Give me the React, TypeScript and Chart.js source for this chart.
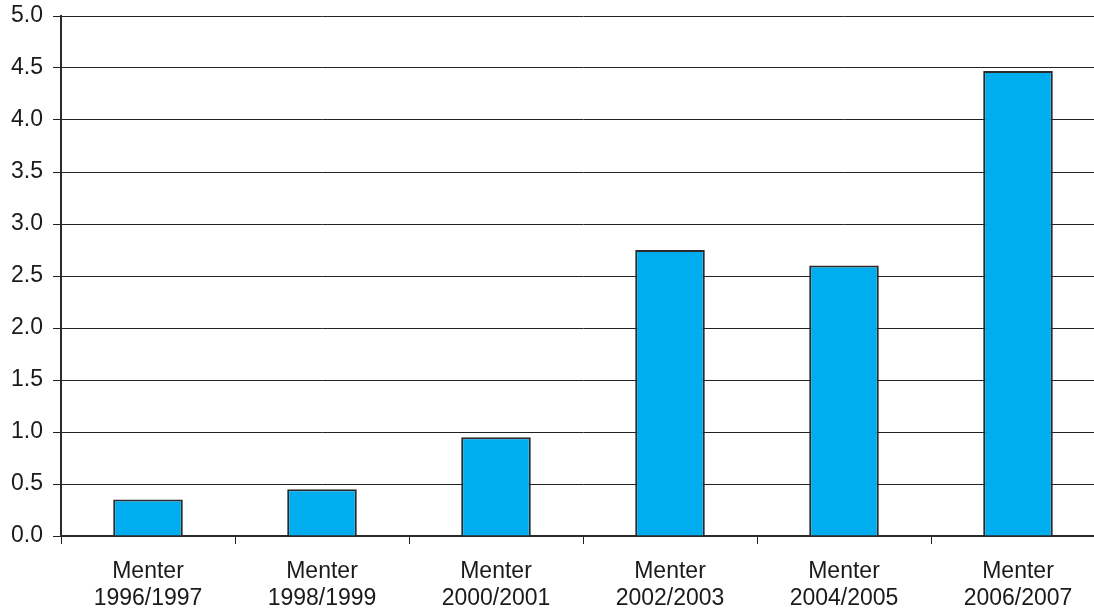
import React, { useEffect, useRef } from "react";
import { Chart, registerables } from "chart.js";

Chart.register(...registerables);

const categories: string[][] = [
  ["Menter", "1996/1997"],
  ["Menter", "1998/1999"],
  ["Menter", "2000/2001"],
  ["Menter", "2002/2003"],
  ["Menter", "2004/2005"],
  ["Menter", "2006/2007"],
];
const values: number[] = [0.35, 0.45, 0.95, 2.75, 2.6, 4.47];
const yMin = 0;
const yMax = 5;
const yStep = 0.5;

export default function App() {
  const ref = useRef<HTMLCanvasElement | null>(null);

  useEffect(() => {
    if (!ref.current) return;
    const family = "'Liberation Sans', Arial, Helvetica, sans-serif";
    const xFont = { family, size: 23, lineHeight: 1.17 };
    const yFont = { family, size: 23, lineHeight: 0.5 };
    const chart = new Chart(ref.current, {
      type: "bar",
      data: {
        labels: categories,
        datasets: [
          {
            data: values,
            backgroundColor: "#00AEEF",
            borderColor: "#2b2b2b",
            borderWidth: 2,
            barPercentage: 0.4,
            categoryPercentage: 1,
          },
        ],
      },
      options: {
        responsive: false,
        animation: false,
        devicePixelRatio: 1,
        layout: { padding: { top: 16, left: 0, right: 0, bottom: 0 } },
        plugins: { legend: { display: false }, tooltip: { enabled: false } },
        scales: {
          x: {
            grid: {
              offset: true,
              drawOnChartArea: false,
              drawTicks: true,
              tickLength: 8,
              color: "#222",
              lineWidth: 1,
            },
            border: { display: true, color: "#2b2b2b", width: 2 },
            ticks: { color: "#1a1a1a", font: xFont, padding: 14, maxRotation: 0, autoSkip: false },
            afterFit: (s: any) => {
              s.height = 73;
            },
          },
          y: {
            min: yMin,
            max: yMax,
            grid: { color: "#222", lineWidth: 1, tickLength: 8, drawTicks: true },
            border: { display: true, color: "#2b2b2b", width: 2 },
            ticks: {
              stepSize: yStep,
              color: "#1a1a1a",
              font: yFont,
              padding: 10,
              callback: (v: any) => Number(v).toFixed(1),
            },
            afterFit: (s: any) => {
              s.width = 61;
            },
          },
        },
      },
    });
    return () => chart.destroy();
  }, []);

  return (
    <div
      style={{
        position: "fixed",
        left: 0,
        top: 0,
        width: 1094,
        height: 609,
        overflow: "hidden",
        background: "#fff",
      }}
    >
      <canvas ref={ref} width={1105} height={609} style={{ display: "block" }} />
    </div>
  );
}
